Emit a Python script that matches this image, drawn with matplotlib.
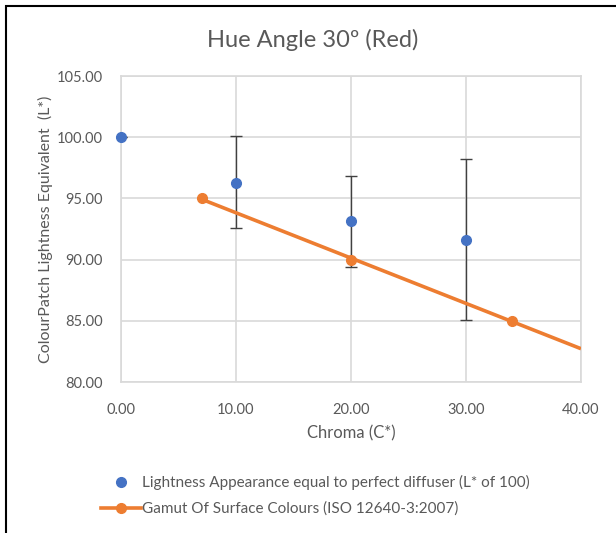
import numpy as np
import matplotlib.pyplot as plt
from matplotlib.lines import Line2D
from matplotlib.patches import Rectangle

# blue points: perceived lightness with spread
chroma = [0, 10, 20, 30]
lightness = [100.0, 96.26, 93.15, 91.6]
err_low = [0.0, 3.66, 3.75, 6.5]
err_high = [0.0, 3.84, 3.68, 6.6]

# orange: gamut of surface colours
gamut_chroma = [7, 20, 34]
gamut_lightness = [95.0, 90.0, 85.0]

title = "Hue Angle 30º (Red)"
blue = "#4472c4"
orange = "#ed7d31"
grey_txt = "#595959"
grid_c = "#d9d9d9"

plt.rcParams['font.family'] = ['Lato', 'DejaVu Sans']

fig = plt.figure(figsize=(6.16, 5.33), dpi=100)
W, H = 616, 533
ax = fig.add_axes([121 / W, 1 - 382 / H, 460 / W, 306 / H])

ax.errorbar(chroma, lightness, yerr=[err_low, err_high], fmt='none',
            ecolor='#404040', elinewidth=1.0, capsize=4, capthick=1.0, zorder=3)
ax.plot(chroma, lightness, 'o', color=blue, markersize=7, zorder=4, clip_on=False)

# linear trendline through gamut points, forecast to the axis end
k, b = np.polyfit(gamut_chroma, gamut_lightness, 1)
xs = np.array([gamut_chroma[0], 40])
ax.plot(xs, k * xs + b, color=orange, lw=2.6, zorder=5, solid_capstyle='butt')
ax.plot(gamut_chroma, gamut_lightness, 'o', color=orange, markersize=7, zorder=6)

ax.set_xlim(0, 40)
ax.set_ylim(80, 105)
ax.set_xticks(np.arange(0, 41, 10))
ax.set_yticks(np.arange(80, 106, 5))
ax.xaxis.set_major_formatter(lambda v, p: f"{v:.2f}")
ax.yaxis.set_major_formatter(lambda v, p: f"{v:.2f}")
ax.tick_params(length=0, labelsize=10.5, colors=grey_txt)
ax.tick_params(axis='y', pad=13)
ax.tick_params(axis='x', pad=15)
ax.grid(True, color=grid_c, lw=1.2)
ax.set_axisbelow(True)
for s in ax.spines.values():
    s.set_color(grid_c)
    s.set_linewidth(1.2)

ax.set_xlabel("Chroma (C*)", fontsize=12, color=grey_txt, labelpad=6)
ax.set_ylabel("ColourPatch Lightness Equivalent  (L*)", fontsize=11.5,
              color=grey_txt, labelpad=3)
fig.text(313 / W, 1 - 40 / H, title, fontsize=17, color=grey_txt,
         ha='center', va='center')

handles = [
    Line2D([], [], ls='none', marker='o', color=blue, markersize=7),
    Line2D([], [], color=orange, lw=2.6, marker='o', markersize=7),
]
labels = ["Lightness Appearance equal to perfect diffuser (L* of 100)",
          "Gamut Of Surface Colours (ISO 12640-3:2007)"]
fig.legend(handles, labels, loc='upper left', bbox_to_anchor=(95 / W, 1 - 469 / H),
           frameon=False, fontsize=11, labelcolor=grey_txt, handlelength=2.6,
           handletextpad=0.1, labelspacing=0.75, borderaxespad=0)

fig.patches.append(Rectangle((6 / W, -0.1), 1.2, (1 - 6 / H) + 0.1,
                             transform=fig.transFigure, fill=False,
                             edgecolor='black', lw=1.5))

fig.savefig("out.png", dpi=100)
